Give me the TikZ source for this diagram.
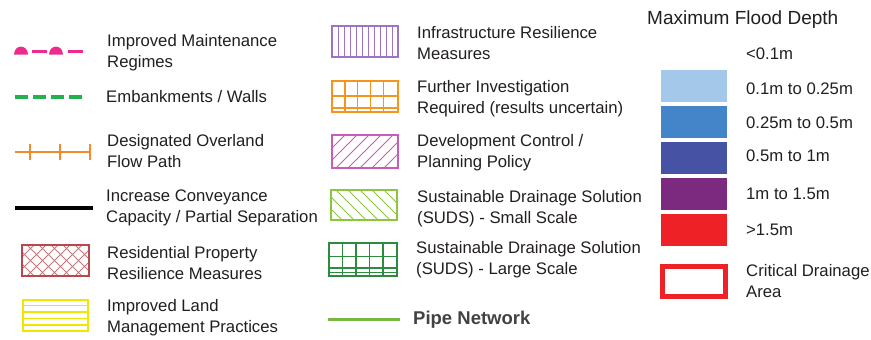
\documentclass[tikz,border=0pt]{standalone}
\usepackage{fontspec}
\setmainfont{Liberation Sans}
\definecolor{txt}{HTML}{231F20}
\definecolor{pinkm}{HTML}{EC2C8C}
\definecolor{embgreen}{HTML}{22B14C}
\definecolor{flowor}{HTML}{F58A2A}
\definecolor{resred}{HTML}{B5494D}
\definecolor{landyel}{HTML}{F2E500}
\definecolor{infpur}{HTML}{9E72C4}
\definecolor{invor}{HTML}{F7941D}
\definecolor{devmag}{HTML}{C85DB8}
\definecolor{sudsl}{HTML}{8CC63E}
\definecolor{sudsd}{HTML}{2D8A3E}
\definecolor{pipeg}{HTML}{76B843}
\definecolor{fd1}{HTML}{A4C8EA}
\definecolor{fd2}{HTML}{4484C8}
\definecolor{fd3}{HTML}{4652A4}
\definecolor{fd4}{HTML}{7B2A80}
\definecolor{fd5}{HTML}{EE2127}
\begin{document}
\begin{tikzpicture}[x=1pt,y=-1pt,
  lbl/.style={anchor=west,inner sep=0pt,align=left,text=txt,font=\fontsize{16.7}{21}\selectfont},
  ttl/.style={anchor=west,inner sep=0pt,text=txt,font=\fontsize{19}{23}\selectfont},
  pipelbl/.style={anchor=west,inner sep=0pt,text=txt!85,font=\fontsize{18.5}{22}\selectfont\bfseries},
  hatch/.style={line width=1pt}]
\useasboundingbox (0,0) rectangle (871,340);
\fill[white] (0,0) rectangle (871,340);

% ---------- column 1 ----------
% improved maintenance
\fill[pinkm] (14,54.5) .. controls (14.5,44) and (27.5,44) .. (28,54.5) -- cycle;
\fill[pinkm] (49,54.5) .. controls (49.5,44) and (62.5,44) .. (63,54.5) -- cycle;
\draw[pinkm,line width=3pt] (32,51.5) -- (47,51.5) (68,51.5) -- (83,51.5);
\node[lbl] (t1) at (107,53) {Improved Maintenance\\Regimes};
% embankments
\draw[embgreen,line width=4pt,dash pattern=on 13pt off 5pt] (15,97) -- (85,97);
\node[lbl] (t2) at (106,96.5) {Embankments / Walls};
% overland flow path
\draw[flowor,line width=2.5pt] (15,152) -- (91,152);
\foreach \xx in {30,60,90} \draw[flowor,line width=2pt] (\xx,144) -- (\xx,160);
\node[lbl] (t3) at (107,151.5) {Designated Overland\\Flow Path};
% conveyance
\draw[black,line width=4pt] (15,208) -- (93,208);
\node[lbl] (t4) at (106,208) {Increase Conveyance\\Capacity / Partial Separation};
% residential property
\begin{scope}
\clip (22,245) rectangle (89,276);
\foreach \i in {-33,-21,...,100} {
  \draw[resred!75,hatch] (\i,276) -- ++(31,-31);
  \draw[resred!75,hatch] (\i,245) -- ++(31,31);
}
\end{scope}
\draw[resred,line width=1.5pt] (22,245) rectangle (89,276);
\node[lbl] (t5) at (107,263) {Residential Property\\Resilience Measures};
% improved land
\foreach \yy in {305.5,312,318.5,325} \draw[landyel,line width=1.3pt] (23,\yy) -- (88,\yy);
\draw[landyel,line width=1.6pt] (23,300) rectangle (88,331);
\node[lbl] (t6) at (107,318) {Improved Land\\Management Practices};

% ---------- column 2 ----------
% infrastructure
\foreach \xx in {338,344,...,392} \draw[infpur,hatch] (\xx,26) -- (\xx,57);
\draw[infpur,line width=1.5pt] (332,26) rectangle (398,57);
\node[lbl] (t7) at (417,43) {Infrastructure Resilience\\Measures};
% further investigation
\foreach \xx in {345,357.5,370.5,383.5} \draw[invor,line width=1.1pt] (\xx,81) -- (\xx,112);
\foreach \yy in {96,108} \draw[invor,line width=1.1pt] (332,\yy) -- (398,\yy);
\draw[invor,line width=1.5pt] (332,81) rectangle (398,112);
\node[lbl] (t8) at (417,99) {Further Investigation\\Required (results uncertain)};
% development control
\begin{scope}
\clip (332,135) rectangle (398,168);
\foreach \i in {300,312,...,410} \draw[devmag,hatch] (\i,168) -- ++(33,-33);
\end{scope}
\draw[devmag,line width=1.3pt] (332,135) rectangle (398,168);
\node[lbl] (t9) at (417,153) {Development Control /\\Planning Policy};
% suds small
\begin{scope}
\clip (331,190) rectangle (397,220);
\foreach \i in {300,312,...,410} \draw[sudsl,hatch] (\i,190) -- ++(30,30);
\end{scope}
\draw[sudsl,line width=1.3pt] (331,190) rectangle (397,220);
\node[lbl] (t10) at (417,209) {Sustainable Drainage Solution\\(SUDS) - Small Scale};
% suds large
\foreach \xx in {342.5,356,369.5,383} \draw[sudsd,line width=1.1pt] (\xx,243) -- (\xx,276);
\foreach \yy in {256.5,268,272.5} \draw[sudsd,line width=1.1pt] (329,\yy) -- (397,\yy);
\draw[sudsd,line width=1.4pt] (329,243) rectangle (397,276);
\node[lbl] (t11) at (416,260) {Sustainable Drainage Solution\\(SUDS) - Large Scale};
% pipe network
\draw[pipeg,line width=3pt] (328,319) -- (400,319);
\node[pipelbl] (t12) at (413,319.5) {Pipe Network};

% ---------- column 3 ----------
\node[ttl] (title) at (647,19.5) {Maximum Flood Depth};
\node[lbl] (d0) at (746,53.5) {<0.1m};
\fill[fd1] (661,70) rectangle (727,102);
\node[lbl] (d1) at (746,89) {0.1m to 0.25m};
\fill[fd2] (661,106) rectangle (727,138);
\node[lbl] (d2) at (746,123) {0.25m to 0.5m};
\fill[fd3] (661,142) rectangle (727,174);
\node[lbl] (d3) at (746,156) {0.5m to 1m};
\fill[fd4] (661,178) rectangle (727,210);
\node[lbl] (d4) at (746,193.5) {1m to 1.5m};
\fill[fd5] (661,214) rectangle (727,246);
\node[lbl] (d5) at (746,230) {>1.5m};
\draw[fd5,line width=5pt] (662.5,266.5) rectangle (725.5,296.5);
\node[lbl] (d6) at (746,281.5) {Critical Drainage\\Area};
\end{tikzpicture}
\end{document}
